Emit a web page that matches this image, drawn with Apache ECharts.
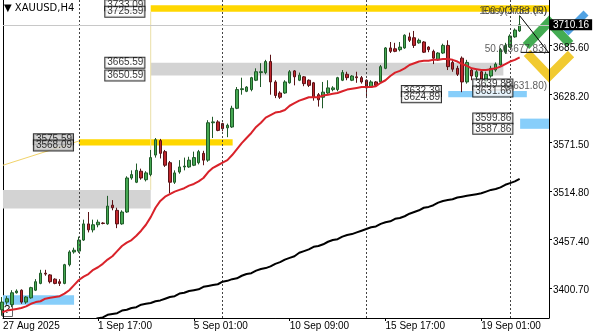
<!DOCTYPE html>
<html><head><meta charset="utf-8">
<script src="https://cdn.jsdelivr.net/npm/echarts@6/dist/echarts.min.js"></script>
<style>html,body{margin:0;padding:0;background:#fff}#c{width:598px;height:336px}</style>
</head><body><div id="c"></div>
<script>
const symbolName = '\u25BC XAUUSD,H4';
const timeLabels = ['27 Aug 2025','1 Sep 17:00','5 Sep 01:00','10 Sep 09:00','15 Sep 17:00','19 Sep 01:00'];
const timeLabelBars = [0.17, 20, 40, 60, 80, 100];
const weekStartBars = [16, 46, 76, 106];
const priceTicks = [3400.70, 3457.40, 3514.80, 3571.50, 3628.20, 3685.60];
const lastPrice = 3710.16;

// [open, close, low, high] per H4 bar
const candles = [
[3375,3384,3368,3390],[3384,3388,3381,3391],[3381,3395,3378,3398],[3395,3397,3394,3399],[3398,3384,3382,3399],
[3384,3390,3382,3391],[3389,3401,3388,3402],[3398,3408,3397,3411],[3406,3418,3405,3422],[3418,3417,3415,3422],
[3416,3408,3406,3417],[3411,3406,3405,3412],[3408,3406,3403,3411],[3406,3428,3405,3429],[3428,3443,3426,3445],
[3443,3445,3441,3448],[3444,3457,3442,3461],[3457,3476,3456,3481],[3476,3469,3466,3490],[3469,3475,3466,3481],
[3475,3478,3472,3481],[3477,3476.5,3475.5,3478],[3476,3497,3475,3509],[3498,3495,3492,3504],[3492,3476,3471,3495],
[3476,3490,3475,3492],[3490,3530,3489,3532],[3530,3534,3528,3539],[3525,3539,3524,3547],[3538,3530,3528,3541],
[3528,3536,3526,3538],[3534,3554,3532,3563],[3557,3575,3554,3577],[3574,3559,3553,3576],[3561,3545,3543,3563],
[3548,3525,3512,3550],[3525,3536,3523,3539],[3537,3543,3535,3551],[3543,3544,3539,3554],[3543,3551,3542,3555],
[3545,3554,3544,3561],[3548,3561,3546,3563],[3559,3551,3545,3562],[3551,3595,3549,3598],[3595,3596,3577,3602],
[3596,3586,3585,3598],[3594,3588,3585,3595],[3589,3592,3578,3594],[3590,3612,3589,3615],[3612,3634,3611,3637],
[3634,3635,3628,3648],[3632,3637,3631,3638],[3634,3648,3632,3649],[3645,3655,3644,3659],[3654,3655,3637,3665],
[3654,3667,3652,3669],[3667,3643,3628,3675],[3643,3627,3624,3645],[3630,3625,3623,3632],[3630,3643,3629,3645],
[3642,3655,3641,3657],[3656,3649,3639,3657],[3645,3651,3644,3654],[3649,3641,3638,3650],[3645,3639,3637,3646],
[3642,3625,3621,3643],[3628,3622,3614,3630],[3625,3631,3612,3643],[3630,3636,3629,3645],[3634,3636,3632,3638],
[3634,3648,3632,3649],[3645,3654,3644,3657],[3652,3648,3645,3655],[3645,3650,3644,3651],[3649,3648,3642,3655],
[3648,3643,3641,3650],[3645,3636,3624,3646],[3637,3643,3636,3645],[3643,3639,3638,3644],[3643,3661,3642,3663],
[3659,3683,3658,3684],[3683,3679,3677,3690],[3682,3679,3678,3689],[3681,3684,3679,3690],[3683,3698,3682,3699],
[3696,3692,3690,3701],[3695,3686,3683,3703],[3689,3692,3688,3694],[3690,3678,3677,3691],[3684,3681,3678,3685],
[3679,3671,3664,3681],[3669,3677,3668,3678],[3677,3686,3676,3688],[3686,3661,3657,3692],[3666,3658,3655,3669],
[3659,3652,3650,3662],[3671,3643,3631,3673],[3643,3666,3641,3669],[3657,3650,3645,3659],[3649,3655,3645,3657],
[3655,3645,3638,3657],[3643,3652,3639,3655],[3650,3659,3648,3662],[3657,3664,3655,3666],[3663,3681,3662,3683],
[3678,3686,3676,3689],[3684,3697,3683,3699],[3696,3704,3695,3706],[3703,3710.16,3702,3721]
];

const maFast = [
3372,3374,3375,3376,3377,3379,3382,3384,3385,3388,3389,3390,3391,3394,3398,3404,3410,3414,3417,3422,
3425,3429,3434,3438,3444,3450,3454,3457,3462,3468,3475,3484,3495,3503,3508,3511,3514,3516,3518,3521,
3523,3526,3530,3537,3542,3545,3548,3551,3557,3564,3571,3577,3583,3590,3595,3601,3604,3607,3608,3610,
3615,3618,3621,3623,3625,3625,3625,3627,3628,3629,3630,3632,3634,3635,3636,3637,3637,3637,3638,3642,
3645,3650,3654,3656,3659,3663,3665,3667,3668,3668,3669,3669,3670,3670,3669,3667,3664,3662,3659,3658,
3657,3657,3658,3659,3661,3664,3667,3669,3672
];

const maSlow = [
null,null,null,null,null,null,null,null,null,null,null,null,null,null,null,null,null,null,3362,3363,
3365,3366,3369,3370,3371,3374,3375,3377,3378,3381,3382,3383,3385,3386,3388,3390,3391,3394,3395,3397,
3398,3399,3402,3403,3404,3405,3408,3409,3411,3412,3415,3417,3418,3421,3423,3424,3426,3429,3431,3434,
3436,3438,3442,3444,3446,3449,3450,3452,3455,3457,3458,3461,3463,3464,3466,3468,3470,3472,3473,3476,
3478,3479,3482,3483,3485,3488,3490,3492,3495,3496,3498,3501,3503,3504,3505,3507,3508,3509,3510,3511,
3512,3514,3516,3517,3519,3522,3524,3526,3529
];

// zones: start bar, end bar, low price, high price
const zoneStart = [31, 31, 16, 0, 0, 93.1, 108.1];
const zoneEnd   = [114.125, 104.6, 48.1, 31, 15, 109.5, 114.125];
const zoneLow   = [3725.59, 3650.59, 3568.09, 3494, 3381, 3624.89, 3587.86];
const zoneHigh  = [3733.09, 3665.59, 3575.59, 3516, 3392, 3632.39, 3599.86];
const zoneKind  = ['gold','gray','gold','gray','blue','blue','blue'];

const tagText = ['3733.09','3725.59','3665.59','3650.59','3575.59','3568.09','3632.39','3624.89','3639.88','3631.66','3599.86','3587.86'];
const tagBar  = [25.6,25.6,25.6,25.6,10.7,10.7,87.5,87.5,102.4,102.4,102.4,102.4];
const tagPrice= [3733.09,3725.59,3665.59,3650.59,3575.59,3568.09,3632.39,3624.89,3639.88,3631.66,3599.86,3587.86];

const fibText = ['100.0(3733.09)','EasyOrder (R)','50.0(3677.83)','(3631.80)'];
const fibPrice = [3726.5, 3726.5, 3681.7, 3637.6];
const fibLine = [[108, 3721], [114.125, 3677]];
const fibLevel = [[108.2, 3677.8], [114.125, 3677.8]];

const FONT = 'Liberation Sans';
const zoneColors = {gold:'#FFD700', gray:'#D3D3D3', blue:'#87CEFA'};

const chart = echarts.init(document.getElementById('c'), null, {renderer:'canvas'});
const XMIN = 0.1667, XMAX = 114.125, YMIN = 3365.3, YMAX = 3739.4;

const labelMap = {};
timeLabelBars.forEach((b,i)=>{ labelMap[b.toFixed(2)] = timeLabels[i]; });

const option = {
  animation: false,
  backgroundColor: '#fff',
  grid: {left: 2, right: 49, top: 0, bottom: 18, containLabel: false},
  xAxis: {
    type: 'value', min: XMIN, max: XMAX,
    axisLine: {show: true, lineStyle: {color: '#000', width: 1}},
    axisTick: {show: true, customValues: timeLabelBars.slice(1), length: 3, lineStyle: {color: '#000'}},
    axisLabel: {show: true, customValues: timeLabelBars, formatter: v => labelMap[v.toFixed(2)] || '',
      align: 'left', fontSize: 10, fontFamily: FONT, color: '#000', margin: 3},
    splitLine: {show: false}
  },
  yAxis: [{
    type: 'value', position: 'right', min: YMIN, max: YMAX,
    axisLine: {show: true, lineStyle: {color: '#000', width: 1}},
    axisTick: {show: true, customValues: priceTicks, length: 3, lineStyle: {color: '#000'}},
    axisLabel: {show: true, customValues: priceTicks, formatter: v => '{p|' + v.toFixed(2) + '}', margin: 4,
      rich: {p: {fontSize: 10, fontFamily: FONT, color: '#000', padding: [5,0,0,0]}}},
    splitLine: {show: false}
  }, {
    type: 'value', position: 'left', min: YMIN, max: YMAX,
    axisLine: {show: true, onZero: false, lineStyle: {color: '#000', width: 1}},
    axisTick: {show: false}, axisLabel: {show: false}, splitLine: {show: false}
  }],
  series: [
    {
      type: 'line', name: 'zones', data: [], z: 1, silent: true,
      markArea: {silent: true, data: zoneStart.map((s,i)=>[
        {xAxis: s, yAxis: zoneLow[i], itemStyle: {color: zoneColors[zoneKind[i]], opacity: 1}},
        {xAxis: zoneEnd[i], yAxis: zoneHigh[i]}
      ])}
    },
    {
      type: 'line', name: 'guide', z: 2, silent: true, symbol: 'none',
      data: [[31, 3725.6], [31, 3516]],
      lineStyle: {color: '#eadfa6', width: 1}
    },
    {
      type: 'line', name: 'guide2', z: 2, silent: true, symbol: 'none',
      data: [[0.17, 3545], [16, 3573.5]],
      lineStyle: {color: '#f1d36a', width: 1}
    },
    {
      type: 'candlestick', name: 'XAUUSD', z: 4,
      data: candles.map((c,i)=>[i, c[0], c[1], c[2], c[3]]),
      barWidth: 3,
      itemStyle: {color: '#45a852', color0: '#c0262c', borderColor: '#1f5a28', borderColor0: '#5a1216', borderWidth: 1},
      markLine: {
        silent: true, symbol: 'none',
        data: [
          ...weekStartBars.map(b=>({xAxis: b, lineStyle: {type: [2,2], color: '#444', width: 1}, label: {show: false}})),
          {yAxis: lastPrice, lineStyle: {type: 'solid', color: '#c8c8c8', width: 1},
           label: {show: true, position: 'end', formatter: lastPrice.toFixed(2), color: '#fff', backgroundColor: '#000',
             padding: [1,3,0,3], fontSize: 10, fontFamily: FONT, distance: 1}}
        ]
      }
    },
    {
      type: 'line', name: 'MA fast', z: 5, symbol: 'none', silent: true,
      data: maFast.map((v,i)=>[i, v]),
      lineStyle: {color: '#d9222a', width: 2}
    },
    {
      type: 'line', name: 'MA slow', z: 5, symbol: 'none', silent: true,
      data: maSlow.map((v,i)=>[i, v]),
      lineStyle: {color: '#000', width: 2}
    },
    {
      type: 'line', name: 'fib', z: 6, symbol: 'none', silent: true,
      data: fibLine, lineStyle: {color: '#000', width: 1}
    },
    {
      type: 'line', name: 'fibLevel', z: 6, symbol: 'none', silent: true,
      data: fibLevel, lineStyle: {color: '#000', width: 1}
    },
    {
      type: 'scatter', name: 'tags', z: 8, silent: true, symbol: 'rect', symbolSize: 1,
      itemStyle: {color: 'rgba(0,0,0,0)'},
      data: tagText.map((t,i)=>({name: t, value: [tagBar[i], tagPrice[i]],
        label: (i===4||i===5) ? {backgroundColor: '#c8c8c8'} : {}})),
      label: {show: true, position: 'inside', formatter: '{b}', fontSize: 10, fontFamily: FONT, color: '#000',
        backgroundColor: '#fff', borderColor: '#000', borderWidth: 1, padding: [0,1,0,2], lineHeight: 10}
    },
    {
      type: 'scatter', name: 'fibtext', z: 8, silent: true, symbol: 'rect', symbolSize: 1,
      itemStyle: {color: 'rgba(0,0,0,0)'},
      data: fibText.map((t,i)=>({name: t, value: [XMAX - 0.3, fibPrice[i]]})),
      label: {show: true, position: 'left', distance: 0, formatter: '{b}', fontSize: 10, fontFamily: FONT, color: '#333'}
    }
  ],
  graphic: [
    {type: 'text', left: 4, top: 3, style: {text: symbolName, fontSize: 10, fontFamily: 'DejaVu Sans', fill: '#000'}},
    {type: 'rect', shape: {x: 2.5, y: 303.5, width: 10, height: 13}, style: {fill: '#fff', stroke: '#666', lineWidth: 1}},
    {type: 'text', x: 4, y: 304, style: {text: '?', fontSize: 11, fontFamily: FONT, fill: '#000'}},
    {type: 'group', z: 100, children: [
      {type: 'polyline', shape: {points: [[527,53],[549,76],[571,54]]}, style: {stroke: '#f0c419', lineWidth: 9, fill: null, opacity: 0.9}},
      {type: 'polyline', shape: {points: [[526,46],[549,22],[570,44]]}, style: {stroke: '#3aa84a', lineWidth: 9, fill: null, opacity: 0.95}},
      {type: 'polyline', shape: {points: [[566,33],[586,13]]}, style: {stroke: '#3e98e0', lineWidth: 7, fill: null, opacity: 0.9}}
    ]}
  ]
};
chart.setOption(option);
</script>
</body></html>
